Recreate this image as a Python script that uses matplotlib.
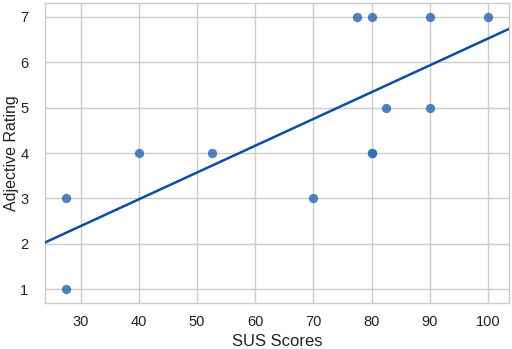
import numpy as np
import matplotlib
matplotlib.use("Agg")
import matplotlib.pyplot as plt

sus_scores = [27.5, 27.5, 40, 52.5, 70, 77.5, 80, 80, 80, 82.5, 90, 90, 100]
adjective_rating = [3, 1, 4, 4, 3, 7, 7, 4, 4, 5, 7, 5, 7]

plt.rcParams['font.family'] = ['Liberation Sans', 'DejaVu Sans']

fig = plt.figure(figsize=(5.12, 3.49), dpi=100)
ax = fig.add_axes([45/512, 1 - 303/349, (509-45)/512, (303-3)/349])
ax.set_facecolor('white')
ax.grid(True, color='#cccccc', linewidth=1.0)
ax.set_axisbelow(True)
for s in ax.spines.values():
    s.set_color('#cccccc')
    s.set_linewidth(1.0)

x = np.array(sus_scores, dtype=float)
y = np.array(adjective_rating, dtype=float)
ax.scatter(x, y, s=45, color='#2f6db5', alpha=0.85, linewidths=0, zorder=3)
ax.margins(0.05)
ax.autoscale_view()
xl = ax.get_xlim()
yl = ax.get_ylim()
m, b = np.polyfit(x, y, 1)
xs = np.array(xl)
ax.plot(xs, m*xs + b, color='#0b4ea2', linewidth=1.8, zorder=4)
ax.set_xlim(xl)
ax.set_ylim(yl)

ax.set_xticks([30, 40, 50, 60, 70, 80, 90, 100])
ax.set_yticks([1, 2, 3, 4, 5, 6, 7])
ax.tick_params(axis='x', length=0, labelsize=10.5, colors='#222222', pad=9)
ax.tick_params(axis='y', length=0, labelsize=10.5, colors='#222222', pad=12)
ax.set_xlabel('SUS Scores', fontsize=12, color='#222222', labelpad=3)
ax.set_ylabel('Adjective Rating', fontsize=11.5, color='#222222')
ax.yaxis.set_label_coords(-0.057, 0.5)

fig.savefig('out.png', dpi=100)
